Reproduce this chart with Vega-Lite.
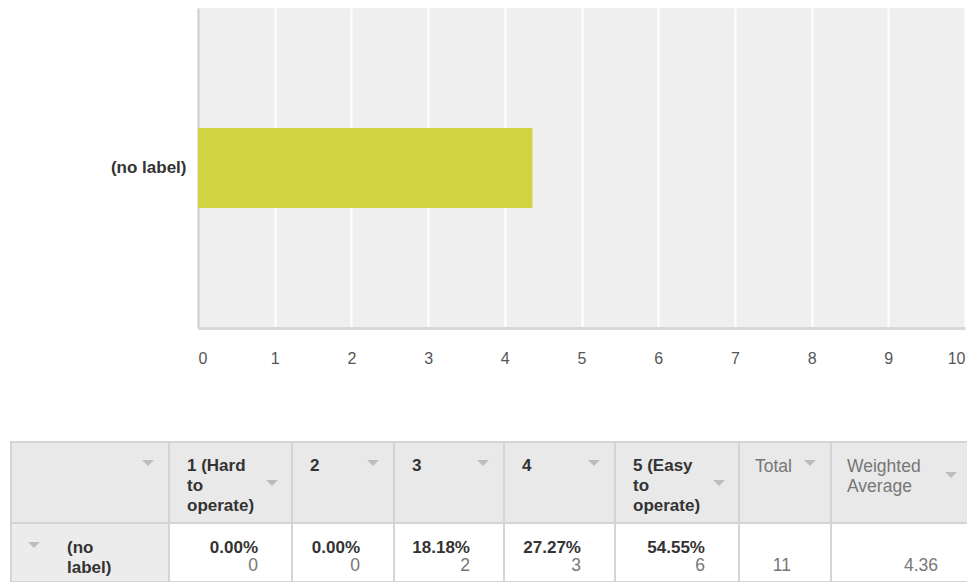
{
  "$schema": "https://vega.github.io/schema/vega-lite/v6.json",
  "padding": {"top": 8, "left": 10, "right": 0, "bottom": 0},
  "background": "white",
  "spacing": 73,
  "config": {"font": "Liberation Sans"},
  "datasets": {
    "bar": [{"label": "(no label)", "avg": 4.36}],
    "cells": [
      {"c": 0, "c2": 1, "r": 0, "r2": 1, "kind": "head"},
      {"c": 1, "c2": 2, "r": 0, "r2": 1, "kind": "head"},
      {"c": 2, "c2": 3, "r": 0, "r2": 1, "kind": "head"},
      {"c": 3, "c2": 4, "r": 0, "r2": 1, "kind": "head"},
      {"c": 4, "c2": 5, "r": 0, "r2": 1, "kind": "head"},
      {"c": 5, "c2": 6, "r": 0, "r2": 1, "kind": "head"},
      {"c": 6, "c2": 7, "r": 0, "r2": 1, "kind": "head"},
      {"c": 7, "c2": 8, "r": 0, "r2": 1, "kind": "head"},
      {"c": 0, "c2": 1, "r": 1, "r2": 2, "kind": "rowhead"},
      {"c": 1, "c2": 2, "r": 1, "r2": 2, "kind": "body"},
      {"c": 2, "c2": 3, "r": 1, "r2": 2, "kind": "body"},
      {"c": 3, "c2": 4, "r": 1, "r2": 2, "kind": "body"},
      {"c": 4, "c2": 5, "r": 1, "r2": 2, "kind": "body"},
      {"c": 5, "c2": 6, "r": 1, "r2": 2, "kind": "body"},
      {"c": 6, "c2": 7, "r": 1, "r2": 2, "kind": "body"},
      {"c": 7, "c2": 8, "r": 1, "r2": 2, "kind": "body"}
    ],
    "hdr": [
      {"c": 1, "r": 0, "t": "1 (Hard\nto\noperate)"},
      {"c": 2, "r": 0, "t": "2"},
      {"c": 3, "r": 0, "t": "3"},
      {"c": 4, "r": 0, "t": "4"},
      {"c": 5, "r": 0, "t": "5 (Easy\nto\noperate)"},
      {"c": 6, "r": 0, "t": "Total"},
      {"c": 7, "r": 0, "t": "Weighted\nAverage"}
    ],
    "vals": [
      {"c2": 2, "r": 1, "pct": 0, "n": 0},
      {"c2": 3, "r": 1, "pct": 0, "n": 0},
      {"c2": 4, "r": 1, "pct": 0.1818, "n": 2},
      {"c2": 5, "r": 1, "pct": 0.2727, "n": 3},
      {"c2": 6, "r": 1, "pct": 0.5455, "n": 6}
    ],
    "summary": [
      {"c2": 7, "r": 1, "k": "total", "v": "11"},
      {"c2": 8, "r": 1, "k": "avg", "v": "4.36"}
    ],
    "rowlab": [{"c": 0, "r": 1, "t": "(no\nlabel)"}],
    "tri": [
      {"c": 0, "c2": 1, "r": 0, "g": "one"},
      {"c": 1, "c2": 2, "r": 0, "g": "three"},
      {"c": 2, "c2": 3, "r": 0, "g": "one"},
      {"c": 3, "c2": 4, "r": 0, "g": "one"},
      {"c": 4, "c2": 5, "r": 0, "g": "one"},
      {"c": 5, "c2": 6, "r": 0, "g": "three"},
      {"c": 6, "c2": 7, "r": 0, "g": "one"},
      {"c": 7, "c2": 8, "r": 0, "g": "two"},
      {"c": 0, "c2": 1, "r": 1, "g": "row"}
    ]
  },
  "vconcat": [
    {
      "width": 767,
      "height": 320,
      "view": {"fill": "#efefef", "stroke": null},
      "data": {"name": "bar"},
      "mark": {"type": "bar", "color": "#cfd440"},
      "encoding": {
        "y": {
          "field": "label", "type": "nominal",
          "scale": {"paddingInner": 0.3333, "paddingOuter": 1},
          "axis": {"title": null, "ticks": false, "domainColor": "#cccccc", "domainWidth": 2,
                   "labelFontWeight": "bold", "labelFontSize": 17, "labelColor": "#333333",
                   "labelPadding": 12, "minExtent": 187, "maxExtent": 187}
        },
        "x": {
          "field": "avg", "type": "quantitative",
          "scale": {"domain": [0, 10], "nice": false},
          "axis": {"title": null, "values": [0,1,2,3,4,5,6,7,8,9,10], "grid": true, "gridColor": "#ffffff",
                   "gridWidth": 2, "ticks": false, "domainColor": "#d9d9d9", "domainWidth": 3,
                   "labelColor": "#555555", "labelFontSize": 16, "labelPadding": 22,
                   "minExtent": 40, "maxExtent": 40}
        }
      }
    },
    {
      "width": 767,
      "height": 140,
      "view": {"stroke": null},
      "layer": [
        {
          "data": {"name": "cells"},
          "mark": {"type": "rect", "stroke": "#d4d4d4", "strokeWidth": 2},
          "encoding": {
            "x": {"field": "c", "type": "quantitative", "scale": {"domain": [0,1,2,3,4,5,6,7,8], "range": [-187,-29,94,196,306,417,541,633,770], "nice": false, "zero": false}, "axis": null},
            "x2": {"field": "c2"},
            "y": {"field": "r", "type": "quantitative", "scale": {"domain": [0,1,2], "range": [0,81,140], "nice": false, "zero": false}, "axis": null},
            "y2": {"field": "r2"},
            "fill": {"field": "kind", "type": "nominal", "scale": {"domain": ["head","rowhead","body"], "range": ["#e9e9e9","#ececec","#ffffff"]}, "legend": null}
          }
        },
        {
          "data": {"name": "hdr"},
          "transform": [{"filter": "datum.c <= 5"}],
          "mark": {"type": "text", "align": "left", "baseline": "top", "dx": 18, "dy": 16, "fontSize": 17, "fontWeight": "bold", "color": "#333333", "lineBreak": "\n", "lineHeight": 20},
          "encoding": {
            "x": {"field": "c", "type": "quantitative", "scale": {"domain": [0,1,2,3,4,5,6,7,8], "range": [-187,-29,94,196,306,417,541,633,770], "nice": false, "zero": false}, "axis": null},
            "y": {"field": "r", "type": "quantitative", "scale": {"domain": [0,1,2], "range": [0,81,140], "nice": false, "zero": false}, "axis": null},
            "text": {"field": "t", "type": "nominal"}
          }
        },
        {
          "data": {"name": "hdr"},
          "transform": [{"filter": "datum.c >= 6"}],
          "mark": {"type": "text", "align": "left", "baseline": "top", "dx": 16, "dy": 16, "fontSize": 17.5, "color": "#777777", "lineBreak": "\n", "lineHeight": 20},
          "encoding": {
            "x": {"field": "c", "type": "quantitative", "scale": {"domain": [0,1,2,3,4,5,6,7,8], "range": [-187,-29,94,196,306,417,541,633,770], "nice": false, "zero": false}, "axis": null},
            "y": {"field": "r", "type": "quantitative", "scale": {"domain": [0,1,2], "range": [0,81,140], "nice": false, "zero": false}, "axis": null},
            "text": {"field": "t", "type": "nominal"}
          }
        },
        {
          "data": {"name": "rowlab"},
          "mark": {"type": "text", "align": "left", "baseline": "top", "dx": 56, "dy": 17, "fontSize": 17, "fontWeight": "bold", "color": "#333333", "lineBreak": "\n", "lineHeight": 20},
          "encoding": {
            "x": {"field": "c", "type": "quantitative", "scale": {"domain": [0,1,2,3,4,5,6,7,8], "range": [-187,-29,94,196,306,417,541,633,770], "nice": false, "zero": false}, "axis": null},
            "y": {"field": "r", "type": "quantitative", "scale": {"domain": [0,1,2], "range": [0,81,140], "nice": false, "zero": false}, "axis": null},
            "text": {"field": "t", "type": "nominal"}
          }
        },
        {
          "data": {"name": "vals"},
          "mark": {"type": "text", "align": "right", "baseline": "alphabetic", "dx": -34, "dy": 30, "fontSize": 17, "fontWeight": "bold", "color": "#333333"},
          "encoding": {
            "x": {"field": "c2", "type": "quantitative", "scale": {"domain": [0,1,2,3,4,5,6,7,8], "range": [-187,-29,94,196,306,417,541,633,770], "nice": false, "zero": false}, "axis": null},
            "y": {"field": "r", "type": "quantitative", "scale": {"domain": [0,1,2], "range": [0,81,140], "nice": false, "zero": false}, "axis": null},
            "text": {"field": "pct", "type": "quantitative", "format": ".2%"}
          }
        },
        {
          "data": {"name": "vals"},
          "mark": {"type": "text", "align": "right", "baseline": "alphabetic", "dx": -34, "dy": 48, "fontSize": 17.5, "color": "#777777"},
          "encoding": {
            "x": {"field": "c2", "type": "quantitative", "scale": {"domain": [0,1,2,3,4,5,6,7,8], "range": [-187,-29,94,196,306,417,541,633,770], "nice": false, "zero": false}, "axis": null},
            "y": {"field": "r", "type": "quantitative", "scale": {"domain": [0,1,2], "range": [0,81,140], "nice": false, "zero": false}, "axis": null},
            "text": {"field": "n", "type": "quantitative"}
          }
        },
        {
          "data": {"name": "summary"},
          "transform": [{"filter": "datum.k == 'total'"}],
          "mark": {"type": "text", "align": "right", "baseline": "alphabetic", "dx": -40, "dy": 48, "fontSize": 17.5, "color": "#777777"},
          "encoding": {
            "x": {"field": "c2", "type": "quantitative", "scale": {"domain": [0,1,2,3,4,5,6,7,8], "range": [-187,-29,94,196,306,417,541,633,770], "nice": false, "zero": false}, "axis": null},
            "y": {"field": "r", "type": "quantitative", "scale": {"domain": [0,1,2], "range": [0,81,140], "nice": false, "zero": false}, "axis": null},
            "text": {"field": "v", "type": "nominal"}
          }
        },
        {
          "data": {"name": "summary"},
          "transform": [{"filter": "datum.k == 'avg'"}],
          "mark": {"type": "text", "align": "right", "baseline": "alphabetic", "dx": -30, "dy": 48, "fontSize": 17.5, "color": "#777777"},
          "encoding": {
            "x": {"field": "c2", "type": "quantitative", "scale": {"domain": [0,1,2,3,4,5,6,7,8], "range": [-187,-29,94,196,306,417,541,633,770], "nice": false, "zero": false}, "axis": null},
            "y": {"field": "r", "type": "quantitative", "scale": {"domain": [0,1,2], "range": [0,81,140], "nice": false, "zero": false}, "axis": null},
            "text": {"field": "v", "type": "nominal"}
          }
        },
        {
          "data": {"name": "tri"},
          "transform": [{"filter": "datum.g == 'one'"}],
          "mark": {"type": "point", "shape": "M-1,-0.5L1,-0.5L0,0.5Z", "size": 144, "filled": true, "color": "#bdbdbd", "opacity": 1, "xOffset": -21, "yOffset": 21},
          "encoding": {
            "x": {"field": "c2", "type": "quantitative", "scale": {"domain": [0,1,2,3,4,5,6,7,8], "range": [-187,-29,94,196,306,417,541,633,770], "nice": false, "zero": false}, "axis": null},
            "y": {"field": "r", "type": "quantitative", "scale": {"domain": [0,1,2], "range": [0,81,140], "nice": false, "zero": false}, "axis": null}
          }
        },
        {
          "data": {"name": "tri"},
          "transform": [{"filter": "datum.g == 'three'"}],
          "mark": {"type": "point", "shape": "M-1,-0.5L1,-0.5L0,0.5Z", "size": 144, "filled": true, "color": "#bdbdbd", "opacity": 1, "xOffset": -20, "yOffset": 41},
          "encoding": {
            "x": {"field": "c2", "type": "quantitative", "scale": {"domain": [0,1,2,3,4,5,6,7,8], "range": [-187,-29,94,196,306,417,541,633,770], "nice": false, "zero": false}, "axis": null},
            "y": {"field": "r", "type": "quantitative", "scale": {"domain": [0,1,2], "range": [0,81,140], "nice": false, "zero": false}, "axis": null}
          }
        },
        {
          "data": {"name": "tri"},
          "transform": [{"filter": "datum.g == 'two'"}],
          "mark": {"type": "point", "shape": "M-1,-0.5L1,-0.5L0,0.5Z", "size": 144, "filled": true, "color": "#bdbdbd", "opacity": 1, "xOffset": -17, "yOffset": 33},
          "encoding": {
            "x": {"field": "c2", "type": "quantitative", "scale": {"domain": [0,1,2,3,4,5,6,7,8], "range": [-187,-29,94,196,306,417,541,633,770], "nice": false, "zero": false}, "axis": null},
            "y": {"field": "r", "type": "quantitative", "scale": {"domain": [0,1,2], "range": [0,81,140], "nice": false, "zero": false}, "axis": null}
          }
        },
        {
          "data": {"name": "tri"},
          "transform": [{"filter": "datum.g == 'row'"}],
          "mark": {"type": "point", "shape": "M-1,-0.5L1,-0.5L0,0.5Z", "size": 144, "filled": true, "color": "#bdbdbd", "opacity": 1, "xOffset": 23, "yOffset": 22},
          "encoding": {
            "x": {"field": "c", "type": "quantitative", "scale": {"domain": [0,1,2,3,4,5,6,7,8], "range": [-187,-29,94,196,306,417,541,633,770], "nice": false, "zero": false}, "axis": null},
            "y": {"field": "r", "type": "quantitative", "scale": {"domain": [0,1,2], "range": [0,81,140], "nice": false, "zero": false}, "axis": null}
          }
        }
      ]
    }
  ]
}
